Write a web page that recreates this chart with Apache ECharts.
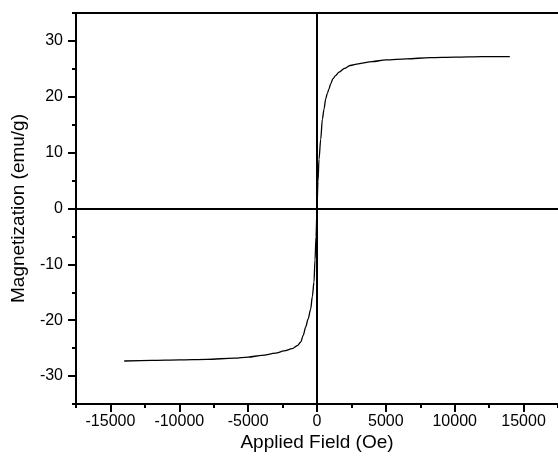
<!DOCTYPE html>
<html>
<head>
<meta charset="utf-8">
<script src="https://cdn.jsdelivr.net/npm/echarts@6/dist/echarts.min.js"></script>
<style>
  html, body { margin: 0; padding: 0; background: #fff; }
  #chart { width: 558px; height: 466px; }
</style>
</head>
<body>
<div id="chart"></div>
<script>
// applied field (Oe) and magnetization (emu/g)
const field = [-14000, -12000, -10000, -8000, -6000, -5000, -4000, -3000, -2400, -1800,
  -1400, -1180, -1000, -820, -650, -460, -340, -220, -145, -70,
  0, 70, 145, 270, 390, 510, 630, 750, 870, 990,
  1150, 1350, 1600, 2000, 2400, 3000, 4000, 5000, 6500, 8200,
  10000, 12000, 14000]
const magnet = [-27.3, -27.2, -27.1, -27.0, -26.8, -26.6, -26.3, -25.9, -25.5, -25.1,
  -24.5, -23.9, -22.7, -21.2, -19.8, -18.0, -15.8, -13.2, -9.2, -5.0,
  0, 4.8, 8.8, 12.4, 16.0, 17.8, 19.6, 20.6, 21.4, 22.3,
  23.2, 23.8, 24.4, 25.1, 25.6, 25.9, 26.3, 26.6, 26.8, 27.0,
  27.1, 27.2, 27.2]

// axis ranges and labelled ticks
const xRange = [-17500, 17500]
const yRange = [-35, 35]
const xLabelRange = [-15000, 15000]
const yLabelRange = [-30, 30]
const xStep = 5000
const yStep = 10
// bands around each label; the band edges are the minor ticks
const xLabels = ['-15000', '-10000', '-5000', '0', '5000', '10000', '15000']
const yLabels = ['-30', '-20', '-10', '0', '10', '20', '30']

const chart = echarts.init(document.getElementById('chart'))
const font = 'Liberation Sans, Arial, sans-serif'
const black = '#000'
const plain = v => String(v)

// plot box
const L = 76, R = 0, T = 13, B = 62
const W = 558 - L - R, H = 466 - T - B
// inner boxes whose edges fall on the outermost labelled ticks
const dx = (xLabelRange[0] - xRange[0]) / (xRange[1] - xRange[0]) * W
const dy = (yRange[1] - yLabelRange[1]) / (yRange[1] - yRange[0]) * H

const line = { onZero: false, lineStyle: { color: black, width: 2 } }
const labelStyle = { fontFamily: font, fontSize: 16, color: black }
const hidden = { type: 'value', show: false }

// category axis, used only for the short ticks at band edges
function minorAxis (labels, pos) {
  return {
    type: 'category', data: labels, boundaryGap: true, position: pos, gridIndex: 0,
    axisLine: { show: true, onZero: false, lineStyle: { color: black, width: 2 } },
    axisTick: { show: true, interval: 0, length: 4, lineStyle: { color: black, width: 2 } },
    axisLabel: { show: false },
    splitLine: { show: false }
  }
}

const option = {
  animation: false,
  backgroundColor: '#fff',
  grid: [
    { left: L, right: R, top: T, bottom: B, outerBoundsMode: 'none' },
    { left: L + dx, right: R + dx, top: T, bottom: B, outerBoundsMode: 'none' },
    { left: L, right: R, top: T + dy, bottom: B + dy, outerBoundsMode: 'none' }
  ],
  xAxis: [
    {
      type: 'value', gridIndex: 0, min: xRange[0], max: xRange[1], position: 'bottom',
      name: 'Applied Field (Oe)', nameLocation: 'middle', nameGap: 29,
      nameTextStyle: { fontFamily: font, fontSize: 19, color: black },
      axisLine: line,
      axisTick: { show: false },
      axisLabel: { show: false },
      splitLine: { show: false }
    },
    minorAxis(xLabels, 'bottom'),
    {
      // top frame line
      type: 'value', gridIndex: 0, min: xRange[0], max: xRange[1], position: 'top',
      axisLine: line,
      axisTick: { show: false },
      axisLabel: { show: false },
      splitLine: { show: false }
    },
    {
      // labelled ticks of the field axis
      type: 'value', gridIndex: 1, min: xLabelRange[0], max: xLabelRange[1], interval: xStep,
      position: 'bottom',
      axisLine: line,
      axisTick: { show: true, length: 8, lineStyle: { color: black, width: 2 } },
      axisLabel: Object.assign({ formatter: plain, margin: 10 }, labelStyle),
      splitLine: { show: false }
    },
    Object.assign({ gridIndex: 2 }, hidden)
  ],
  yAxis: [
    {
      type: 'value', gridIndex: 0, min: yRange[0], max: yRange[1], position: 'left',
      name: 'Magnetization (emu/g)', nameLocation: 'middle', nameGap: 48,
      nameTextStyle: { fontFamily: font, fontSize: 19, color: black },
      axisLine: line,
      axisTick: { show: false },
      axisLabel: { show: false },
      splitLine: { show: false }
    },
    minorAxis(yLabels, 'left'),
    Object.assign({ gridIndex: 1 }, hidden),
    {
      // labelled ticks of the magnetization axis
      type: 'value', gridIndex: 2, min: yLabelRange[0], max: yLabelRange[1], interval: yStep,
      position: 'left',
      axisLine: line,
      axisTick: { show: true, length: 8, lineStyle: { color: black, width: 2 } },
      axisLabel: Object.assign({ formatter: plain, margin: 13 }, labelStyle),
      splitLine: { show: false }
    }
  ],
  series: [
    {
      type: 'line',
      xAxisIndex: 0,
      yAxisIndex: 0,
      data: field.map((f, i) => [f, magnet[i]]),
      showSymbol: false,
      smooth: 0.3,
      smoothMonotone: 'x',
      lineStyle: { color: black, width: 1.3 },
      markLine: {
        silent: true,
        symbol: ['none', 'none'],
        label: { show: false },
        lineStyle: { color: black, width: 2, type: 'solid' },
        data: [{ xAxis: 0 }, { yAxis: 0 }]
      }
    }
  ]
}

chart.setOption(option)
</script>
</body>
</html>
